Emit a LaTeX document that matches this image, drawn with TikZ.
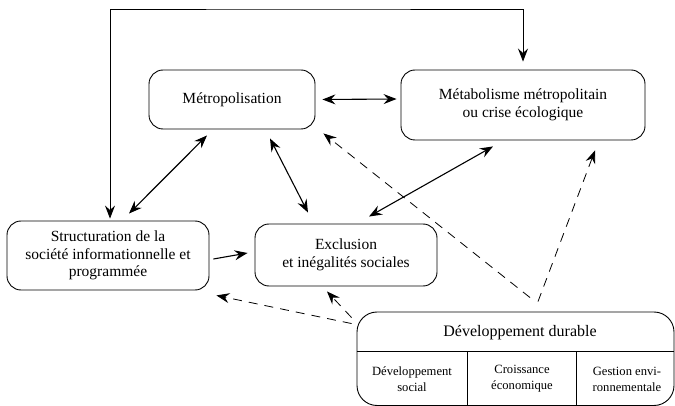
\documentclass[tikz,border=0pt]{standalone}
\usepackage{fontspec}
\setmainfont{Liberation Serif}
\usetikzlibrary{arrows.meta}

\begin{document}
\begin{tikzpicture}[x=1pt,y=-1pt,>={Stealth[length=13pt,width=10pt,inset=4.5pt]},
  box/.style={draw,line width=0.9pt,rounded corners=14pt,align=center,inner sep=0pt,font=\fontsize{15.5}{17.5}\selectfont},
  link/.style={<->,line width=1.1pt},
  feed/.style={->,line width=0.8pt,dash pattern=on 9pt off 7pt},
  cell/.style={align=center,font=\fontsize{12.6}{16}\selectfont}]
  \useasboundingbox (0,0) rectangle (675,406);
  \node[box,minimum width=166pt,minimum height=59pt] (metro) at (232,99.5) {Métropolisation};
  \node[box,minimum width=244pt,minimum height=70pt] (metab) at (523,105) {Métabolisme métropolitain\\ ou crise écologique};
  \node[box,minimum width=202pt,minimum height=69pt] (struct) at (108,255.5) {Structuration de la\\ société informationnelle et\\ programmée};
  \node[box,minimum width=182pt,minimum height=62pt] (excl) at (346,255) {Exclusion\\ et inégalités sociales};
  \node[box,rounded corners=20pt,minimum width=317pt,minimum height=93.5pt] (dd) at (515.5,358.75) {};
  \node[font=\fontsize{16}{18}\selectfont] (ddtitle) at (520,333) {Développement durable};
  \draw[line width=0.9pt] ([yshift=7.75pt]dd.west) -- ([yshift=7.75pt]dd.east);
  \draw[line width=0.9pt] (467,351) -- (467,405.5);
  \draw[line width=0.9pt] (576,351) -- (576,405.5);
  \node[cell] (ddsocial) at (412,379) {Développement\\ social};
  \node[cell] (ddeco) at (522,379) {Croissance\\ économique};
  \node[cell] (ddenv) at (627,379) {Gestion envi-\\ ronnementale};
  % liens entre les blocs
  \coordinate (top) at (300,9);
  \draw[<->,line width=0.8pt,shorten >=8pt,shorten <=2pt] ([xshift=2pt]struct.north) |- (top) -| (metab.north);
  \draw[link] ([xshift=7pt]metro.east) -- ([xshift=-4pt,yshift=6pt]metab.west);
  \draw[link] ([xshift=-25pt,yshift=-6pt]metro.south) -- ([xshift=21pt,yshift=7pt]struct.north);
  \draw[link] ([xshift=38pt,yshift=-9pt]metro.south) -- ([xshift=-38pt,yshift=11pt]excl.north);
  \draw[link] ([xshift=-30pt,yshift=-6pt]metab.south) -- ([xshift=23pt,yshift=7pt]excl.north);
  \draw[link,-{Stealth[length=13pt,width=10pt,inset=4.5pt]}] ([xshift=4pt,yshift=-3.5pt]struct.east) -- ([xshift=-7pt,yshift=2pt]excl.west);
  % developpement durable
  \draw[feed] ([xshift=14.5pt,yshift=14pt]dd.north) -- ([xshift=8pt,yshift=-4pt]metro.south east);
  \draw[feed] ([xshift=22.5pt,yshift=10pt]dd.north) -- ([xshift=72pt,yshift=-10pt]metab.south);
  \draw[feed] ([xshift=-5pt,yshift=-12pt]dd.north west) -- ([xshift=7pt,yshift=-5pt]struct.south east);
  \draw[feed] ([xshift=-5pt,yshift=-6pt]dd.north west) -- ([xshift=-19pt,yshift=-5pt]excl.south);
\end{tikzpicture}
\end{document}
